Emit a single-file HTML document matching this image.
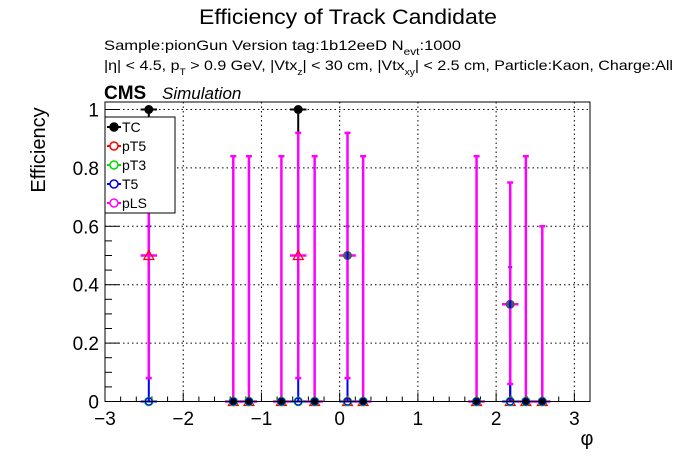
<!DOCTYPE html>
<html><head><meta charset="utf-8"><style>
body{margin:0;background:#fff}
svg{display:block;font-family:"Liberation Sans",Arial,sans-serif}
</style></head><body>
<svg id="c" width="696" height="472" viewBox="0 0 696 472">
<text x="348" y="24" text-anchor="middle" font-size="21" textLength="298" lengthAdjust="spacingAndGlyphs">Efficiency of Track Candidate</text>
<text x="104" y="50" font-size="14" textLength="357" lengthAdjust="spacingAndGlyphs">Sample:pionGun   Version tag:1b12eeD  N<tspan font-size="10" dy="5">evt</tspan><tspan dy="-5">:1000</tspan></text>
<text x="104" y="70" font-size="14" textLength="569" lengthAdjust="spacingAndGlyphs">|η| &lt; 4.5, p<tspan font-size="9" dy="5">T</tspan><tspan dy="-5"> &gt; 0.9 GeV, |Vtx</tspan><tspan font-size="9" dy="5">z</tspan><tspan dy="-5">| &lt; 30 cm, |Vtx</tspan><tspan font-size="9" dy="5">xy</tspan><tspan dy="-5">| &lt; 2.5 cm, Particle:Kaon, Charge:All</tspan></text>
<text x="104" y="99" font-size="19" font-weight="bold">CMS</text>
<text x="162" y="99" font-size="17" font-style="italic">Simulation</text>
<text transform="translate(45,150) rotate(-90)" text-anchor="middle" font-size="20">Efficiency</text>
<text x="587" y="445" text-anchor="middle" font-size="20">φ</text>
<g id="grid"></g><g id="axes"></g><g id="marks"></g>
<rect x="105" y="102" width="485" height="299.5" fill="none" stroke="#000" stroke-width="1"/>
<g>
<rect x="105" y="117" width="70" height="96" fill="#fff" stroke="#000"/>
<g id="leg"></g>
</g>
</svg>
<script>
const phi=[-2.44,-1.36,-1.16,-0.745,-0.53,-0.32,0.10,0.30,1.75,2.18,2.38,2.59];
const tcVals=[1,0,0,0,1,0,0.5,0,0,0.333,0,0];
const plsVals=[0.5,0,0,0,0.5,0,0.5,0,0,0.333,0,0];
const plsUp=[0.92,0.84,0.84,0.84,0.92,0.84,0.92,0.84,0.84,0.75,0.84,0.60];
const plsLo=[0.08,0,0,0,0.08,0,0.08,0,0,0.06,0,0];
const t5Up=[0.6,0,0,0,0.6,0,0.6,0,0,0.46,0,0];
const pt5Vals=[0.5,0,0,0,0.5,0,0,0,0,0,0,0];
const xTicks=[-3,-2,-1,0,1,2,3];
const yTicks=[0,0.2,0.4,0.6,0.8,1];
const yTickLabels=["0","0.2","0.4","0.6","0.8","1"];
const legendNames=["TC","pT5","pT3","T5","pLS"];
const halfBin=0.105;
const X0=105,X1=590,XMIN=-3.0,XMAX=3.2,Y0=401.5,Y1=109.5;
const sx=v=>X0+(v-XMIN)/(XMAX-XMIN)*(X1-X0);
const sy=v=>Y0-v*(Y0-Y1);
const NS="http://www.w3.org/2000/svg";
function mk(t,p,a){const e=document.createElementNS(NS,t);for(const k in a)e.setAttribute(k,a[k]);p.appendChild(e);return e;}
const grid=document.getElementById('grid'),axes=document.getElementById('axes'),marks=document.getElementById('marks'),leg=document.getElementById('leg');
xTicks.forEach(v=>{const x=sx(v);
 if(v>XMIN+0.01){const g=mk('line',grid,{x1:x,x2:x,y1:102,y2:Y0,stroke:'#000','stroke-dasharray':'1.5,3','stroke-width':1});
 
 }
 const t=mk('line',axes,{x1:x,x2:x,y1:Y0,y2:Y0-9,stroke:'#000'});
 
 
 const l=mk('text',axes,{x:x,y:425,'text-anchor':'middle','font-size':19});l.textContent=v<0?'−'+(-v):String(v);
 
 
 for(let k=1;k<5;k++){const m=v+k*0.2;if(m<XMAX){const xm=sx(m);const e=mk('line',axes,{x1:xm,x2:xm,y1:Y0,y2:Y0-5,stroke:'#000'});
 
 }}
});
yTicks.forEach((v,i)=>{const y=sy(v);
 if(v>0){const g=mk('line',grid,{x1:X0,x2:X1,y1:y,y2:y,stroke:'#000','stroke-dasharray':'1.5,3','stroke-width':1});
 
 }
 const t=mk('line',axes,{x1:X0,x2:X0+14,y1:y,y2:y,stroke:'#000'});
 
 
 const l=mk('text',axes,{x:99,y:y+7,'text-anchor':'end','font-size':19});l.textContent=yTickLabels[i];
 
 
 if(v<1)for(let k=1;k<4;k++){const ym=sy(v+k*0.05);const e=mk('line',axes,{x1:X0,x2:X0+7,y1:ym,y2:ym,stroke:'#000'});
 
 }
});
phi.forEach((p,i)=>{const x=sx(p);
 const tl=tcVals[i]>0?Math.max(0,tcVals[i]-0.84):0;
 if(tcVals[i]>0){const e=mk('line',marks,{x1:x,x2:x,y1:sy(tcVals[i]),y2:sy(tl),stroke:'#000','stroke-width':2});
 
 }
 const b=mk('line',marks,{x1:x,x2:x,y1:sy(0),y2:sy(t5Up[i]),stroke:'#0000ff','stroke-width':2});
 
 
 if(t5Up[i]>0){const c=mk('line',marks,{x1:x-2,x2:x+2,y1:sy(t5Up[i]),y2:sy(t5Up[i]),stroke:'#0000ff','stroke-width':2});
 
 }
 const h=mk('line',marks,{x1:sx(p-halfBin),x2:sx(p+halfBin),y1:sy(0),y2:sy(0),stroke:'#0000ff','stroke-width':2});
 
 
 const v=mk('line',marks,{x1:x,x2:x,y1:sy(plsLo[i]),y2:sy(plsUp[i]),stroke:'#ff00ff','stroke-width':2.5});
 
 
 [plsUp[i],plsLo[i]].forEach(c=>{if(c>0){const e=mk('line',marks,{x1:x-3,x2:x+3,y1:sy(c),y2:sy(c),stroke:'#ff00ff','stroke-width':2.5});
 
 }});
 const ph=mk('line',marks,{x1:sx(p-halfBin),x2:sx(p+halfBin),y1:sy(plsVals[i]),y2:sy(plsVals[i]),stroke:'#ff00ff','stroke-width':2.5});
 
 
 const y0=sy(0);
 const tr=mk('polygon',marks,{points:`${x},${sy(pt5Vals[i])-5} ${x-5},${sy(pt5Vals[i])+4} ${x+5},${sy(pt5Vals[i])+4}`,fill:'none',stroke:'#ff0000','stroke-width':1.2});
 
 
 const g=mk('circle',marks,{cx:x,cy:y0,r:4,fill:'none',stroke:'#00dd00','stroke-width':1.5});
 
 
 const bc=mk('circle',marks,{cx:x,cy:y0,r:3.5,fill:'none',stroke:'#0000ff','stroke-width':1.2});
 
 
 if(tcVals[i]>0){const th=mk('line',marks,{x1:sx(p-halfBin),x2:sx(p+halfBin),y1:sy(tcVals[i]),y2:sy(tcVals[i]),stroke:tcVals[i]<1?'#ff00ff':'#000','stroke-width':2});
 
 }
 const m=mk('circle',marks,{cx:x,cy:sy(tcVals[i]),r:tcVals[i]>0?4.5:3,fill:tcVals[i]>0&&tcVals[i]<1?'#555':'#000'});
 
 
 if(plsVals[i]>0&&tcVals[i]<1){const pd=mk('line',marks,{x1:x,x2:x,y1:sy(plsVals[i])-4,y2:sy(plsVals[i])+4,stroke:'#0000ff','stroke-width':2});
 
 }
});
const legCol=['#000','#ff0000','#00dd00','#0000ff','#ff00ff'];
legendNames.forEach((n,i)=>{const y=127+i*19;
 const l=mk('line',leg,{x1:107,x2:121,y1:y,y2:y,stroke:legCol[i],'stroke-width':2});
 
 
 const c=mk('circle',leg,{cx:114,cy:y,r:4,fill:i==0?'#000':'#fff',stroke:legCol[i],'stroke-width':1.5});
 
 
 const t=mk('text',leg,{x:122,y:y+5,'font-size':14});t.textContent=n;
 
 
});
</script>
</body></html>
